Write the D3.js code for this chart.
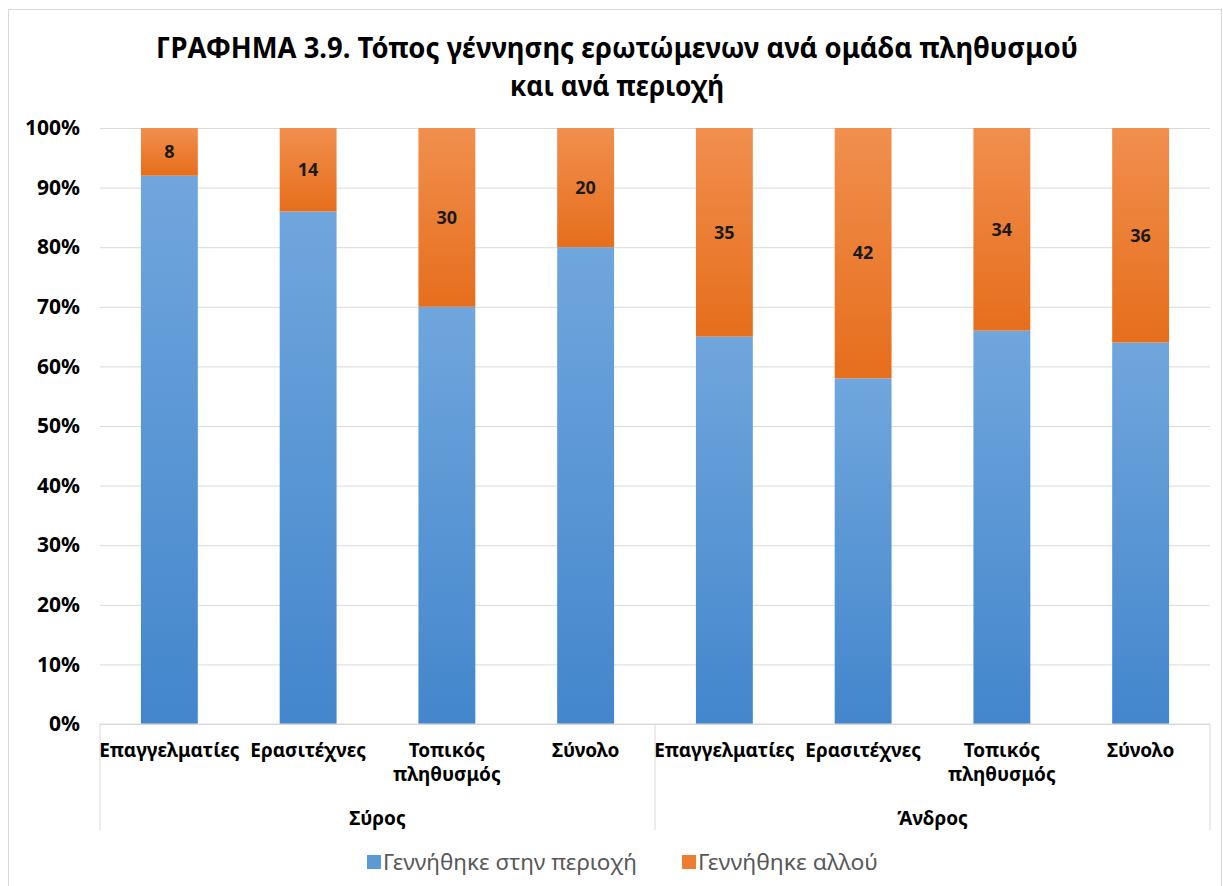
<!DOCTYPE html>
<html>
<head>
<meta charset="utf-8">
<script src="https://cdn.jsdelivr.net/npm/d3@7"></script>
<style>
  body { margin: 0; background: #fff; }
  text { font-family: "Noto Sans", "DejaVu Sans", sans-serif; }
</style>
</head>
<body>
<div id="chart"></div>
<script>
// data
let groups = ["Σύρος", "Άνδρος"];
let categories = [["Επαγγελματίες"], ["Ερασιτέχνες"], ["Τοπικός", "πληθυσμός"], ["Σύνολο"]];
let bornHere = [92, 86, 70, 80, 65, 58, 66, 64];
let bornElsewhere = [8, 14, 30, 20, 35, 42, 34, 36];
let seriesNames = ["Γεννήθηκε στην περιοχή", "Γεννήθηκε αλλού"];
let yTicks = [0, 10, 20, 30, 40, 50, 60, 70, 80, 90, 100];

function loadChart() {
  let svgWidth = 1223, svgHeight = 886;
  let margin = { top: 128, left: 100, right: 13, bottom: 162 };
  let width = svgWidth - margin.left - margin.right;
  let height = svgHeight - margin.top - margin.bottom;

  let svg = d3.select("#chart").append("svg")
    .attr("width", svgWidth)
    .attr("height", svgHeight);

  // chart border
  svg.append("rect")
    .attr("x", 8.5).attr("y", 9.5)
    .attr("width", 1213).attr("height", 900)
    .attr("fill", "#fff")
    .attr("stroke", "#d9d9d9");

  let defs = svg.append("defs");
  function grad(id, top, bottom) {
    let g = defs.append("linearGradient").attr("id", id)
      .attr("x1", 0).attr("y1", 0).attr("x2", 0).attr("y2", 1);
    g.append("stop").attr("offset", "0%").attr("stop-color", top);
    g.append("stop").attr("offset", "100%").attr("stop-color", bottom);
  }
  grad("gBlue", "#70a6dd", "#4386cc");
  grad("gOrange", "#f18f4e", "#e66e1c");

  // title
  let title = svg.append("text")
    .attr("text-anchor", "middle")
    .attr("font-size", "29px")
    .attr("font-weight", "bold")
    .attr("fill", "#000");
  title.append("tspan").attr("x", 617).attr("y", 58)
    .attr("textLength", 922).attr("lengthAdjust", "spacingAndGlyphs")
    .text("ΓΡΑΦΗΜΑ 3.9. Τόπος γέννησης ερωτώμενων ανά ομάδα πληθυσμού");
  title.append("tspan").attr("x", 617).attr("y", 96)
    .attr("textLength", 214).attr("lengthAdjust", "spacingAndGlyphs")
    .text("και ανά περιοχή");

  let chartGroup = svg.append("g")
    .attr("transform", `translate(${margin.left}, ${margin.top})`);

  let idx = d3.range(bornHere.length);
  let xScale = d3.scaleBand()
    .domain(idx)
    .range([0, width])
    .paddingInner(0.59)
    .paddingOuter(0.295);

  let yScale = d3.scaleLinear()
    .domain([0, 100])
    .range([height, 0]);

  // gridlines + y labels
  let yAxis = d3.axisLeft(yScale)
    .tickValues(yTicks)
    .tickSize(-width)
    .tickFormat(d => d + "%");
  let yg = chartGroup.append("g").call(yAxis);
  yg.select(".domain").remove();
  yg.selectAll("line").attr("stroke", "#d9d9d9");
  yg.selectAll("text")
    .attr("x", -20)
    .attr("font-size", "21px")
    .attr("font-weight", "bold")
    .attr("fill", "#000")
    .attr("font-family", "Noto Sans");

  // stacked bars
  let bar = chartGroup.selectAll(".bar")
    .data(idx)
    .enter()
    .append("g");

  bar.append("rect")
    .attr("x", i => xScale(i))
    .attr("width", xScale.bandwidth())
    .attr("y", i => yScale(bornHere[i]))
    .attr("height", i => yScale(0) - yScale(bornHere[i]))
    .attr("fill", "url(#gBlue)");

  bar.append("rect")
    .attr("x", i => xScale(i))
    .attr("width", xScale.bandwidth())
    .attr("y", i => yScale(bornHere[i] + bornElsewhere[i]))
    .attr("height", i => yScale(bornHere[i]) - yScale(bornHere[i] + bornElsewhere[i]))
    .attr("fill", "url(#gOrange)");

  bar.append("text")
    .attr("x", i => xScale(i) + xScale.bandwidth() / 2)
    .attr("y", i => yScale(bornHere[i] + bornElsewhere[i] / 2))
    .attr("dy", "0.35em")
    .attr("text-anchor", "middle")
    .attr("font-size", "18px")
    .attr("font-weight", "bold")
    .attr("fill", "#1a1a1a")
    .text(i => bornElsewhere[i]);

  // multi-level category axis
  let axisG = chartGroup.append("g").attr("transform", `translate(0, ${height})`);
  axisG.append("line")
    .attr("x1", 0).attr("x2", width)
    .attr("stroke", "#d9d9d9");

  let step = xScale.step();
  let perGroup = categories.length;
  d3.range(groups.length + 1).forEach(g => {
    axisG.append("line")
      .attr("x1", g * perGroup * step).attr("x2", g * perGroup * step)
      .attr("y1", 0).attr("y2", 106)
      .attr("stroke", "#d9d9d9");
  });

  idx.forEach(i => {
    let lines = categories[i % perGroup];
    let t = axisG.append("text")
      .attr("text-anchor", "middle")
      .attr("font-size", "19px")
      .attr("font-weight", "bold")
      .attr("fill", "#000");
    lines.forEach((l, k) => {
      t.append("tspan")
        .attr("x", xScale(i) + xScale.bandwidth() / 2)
        .attr("y", 33 + k * 24)
        .text(l);
    });
  });

  groups.forEach((g, k) => {
    axisG.append("text")
      .attr("x", (k + 0.5) * perGroup * step)
      .attr("y", 101)
      .attr("text-anchor", "middle")
      .attr("font-size", "19px")
      .attr("font-weight", "bold")
      .attr("fill", "#000")
      .text(g);
  });

  // legend
  let legend = svg.append("g").attr("transform", "translate(0, 862)");
  let legendX = [367, 682];
  let legendW = [254, 180];
  let legendFill = ["#5b9bd5", "#ed7d31"];
  seriesNames.forEach((name, k) => {
    legend.append("rect")
      .attr("x", legendX[k]).attr("y", -7)
      .attr("width", 14).attr("height", 14)
      .attr("fill", legendFill[k]);
    legend.append("text")
      .attr("x", legendX[k] + 16)
      .attr("y", 0)
      .attr("dy", "0.35em")
      .attr("font-size", "22px")
      .attr("textLength", legendW[k])
      .attr("lengthAdjust", "spacingAndGlyphs")
      .attr("fill", "#595959")
      .text(name);
  });
}

loadChart();
</script>
</body>
</html>
